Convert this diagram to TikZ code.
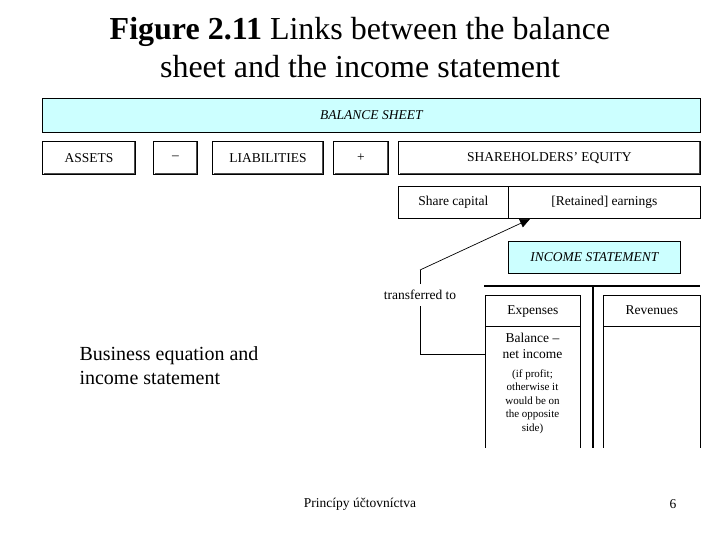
\documentclass[tikz,border=0pt]{standalone}
\usepackage{fontspec}
\setmainfont{Liberation Serif}
\usetikzlibrary{arrows.meta}
\definecolor{lc}{HTML}{CCFFFF}
\begin{document}
\begin{tikzpicture}[x=1pt,y=-1pt,
 bx/.style={draw,line width=0.8pt,inner sep=0,text height=9.5pt,text depth=3pt,font=\fontsize{13.5}{16}\selectfont},
 tx/.style={font=\fontsize{13.5}{16}\selectfont},
 itx/.style={font=\fontsize{13.5}{16}\selectfont\itshape},
 sh/.style={draw=black!70,line width=1.2pt}]
\useasboundingbox (0,0) rectangle (720,540);
\node[font=\fontsize{32}{38}\selectfont,align=center] (title) at (360,48) {\textbf{Figure 2.11} Links between the balance\\sheet and the income statement};
\newcommand\bxx[6]{\draw[sh] (#2+1.5,#5) -- (#4,#5) -- (#4,#3+1.5);
 \node[bx,#6,minimum width=#4-#2,minimum height=#5-#3,anchor=north west] (#1) at (#2,#3) {};}
\bxx{bs}{42}{98}{700}{132}{fill=lc}
\node[itx] at (bs) {BALANCE SHEET};
\bxx{as}{42}{141}{135}{174}{} \node[tx] at (as) {ASSETS};
\bxx{mi}{153}{141}{197}{174}{} \node[tx] at (mi) {--};
\bxx{li}{212}{141}{323}{174}{} \node[tx] at (li) {LIABILITIES};
\bxx{pl}{333}{141}{388}{174}{} \node[tx] at (pl) {+};
\bxx{se}{398}{141}{700}{174}{} \node[tx] at (se) {SHAREHOLDERS' EQUITY};
\node[bx,minimum width=110,minimum height=32,anchor=north west] (sc) at (398,186) {Share capital};
\node[bx,minimum width=192,minimum height=32,anchor=north west] (re) at (508,186) {[Retained] earnings};
\bxx{is}{508}{241}{680}{273}{fill=lc}
\node[itx] at (is) {INCOME STATEMENT};
\draw[line width=2pt] (484,286) -- (700,286);
\draw[line width=2pt] (593,286) -- (593,448);
\node[bx,minimum width=95,minimum height=31,anchor=north west] (ex) at (485,295) {Expenses};
\node[bx,minimum width=97,minimum height=31,anchor=north west] (rv) at (603,295) {Revenues};
\draw[line width=0.8pt] (485,326) -- (485,448) (580,326) -- (580,448);
\draw[line width=0.8pt] (603,326) -- (603,448) (700,326) -- (700,448);
\node[align=center,font=\fontsize{13.5}{16}\selectfont,anchor=north] (bal) at (532.5,330) {Balance --\\net income};
\node[align=center,font=\fontsize{11}{13.5}\selectfont,anchor=north] (note) at (532.5,366) {(if profit;\\otherwise it\\would be on\\the opposite\\side)};
\coordinate (c1) at (420,354);
\coordinate (c2) at (420,270);
\coordinate (tip) at (530,219);
\draw[line width=0.5pt] (485,354) -- (c1) -- (420,306);
\draw[line width=0.5pt] (420,284) -- (c2);
\draw[line width=0.7pt,-{Triangle[length=10pt,width=9pt]}] (c2) -- (tip);
\node[tx] (tr) at (420,295) {transferred to};
\node[font=\fontsize{20}{24}\selectfont,align=left,anchor=north west] (be) at (76,343) {Business equation and\\income statement};
\node[tx] (ft) at (360,504) {Princípy účtovníctva};
\node[tx] (pg) at (673,504) {6};
\end{tikzpicture}
\end{document}
